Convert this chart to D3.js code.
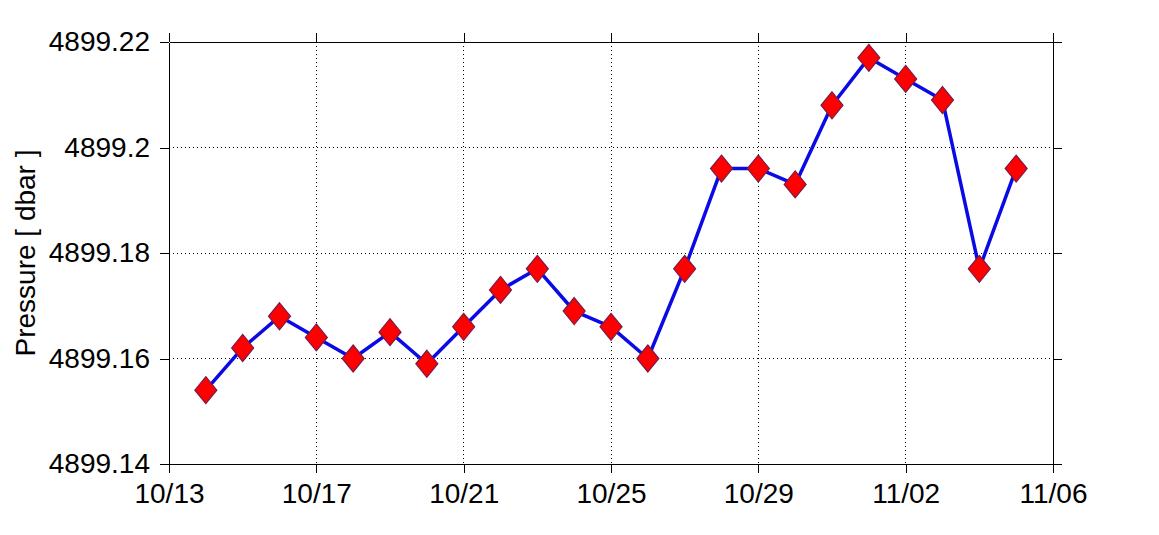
<!DOCTYPE html>
<html>
<head>
<meta charset="utf-8">
<script src="https://cdn.jsdelivr.net/npm/d3@7/dist/d3.min.js"></script>
<style>
  html, body { margin: 0; padding: 0; background: #fff; }
  svg { display: block; font-family: "Liberation Sans", Arial, Helvetica, sans-serif; }
</style>
</head>
<body>
<svg id="chart" width="1159" height="535"></svg>
<script>
// ---- data ----
const dates = ["10/14","10/15","10/16","10/17","10/18","10/19","10/20","10/21","10/22","10/23","10/24","10/25",
               "10/26","10/27","10/28","10/29","10/30","10/31","11/01","11/02","11/03","11/04","11/05"];
const pressure = [4899.154, 4899.162, 4899.168, 4899.164, 4899.160, 4899.165, 4899.159, 4899.166, 4899.173, 4899.177,
                  4899.169, 4899.166, 4899.160, 4899.177, 4899.196, 4899.196, 4899.193, 4899.208, 4899.217, 4899.213,
                  4899.209, 4899.177, 4899.196];
const xTickLabels = ["10/13","10/17","10/21","10/25","10/29","11/02","11/06"];
const yTickValues = [4899.14, 4899.16, 4899.18, 4899.2, 4899.22];
const yTickLabels = ["4899.14","4899.16","4899.18","4899.2","4899.22"];
const xDomain = ["10/13","11/06"];
const yDomain = [4899.14, 4899.22];
const yLabel = "Pressure [ dbar ]";

// ---- helpers ----
const YEAR = 2010;
const toDate = s => { const [m, d] = s.split("/").map(Number); return new Date(Date.UTC(YEAR, m - 1, d)); };

const W = 1159, H = 535;
const margin = { left: 169, right: 106, top: 42, bottom: 71 };
const iw = W - margin.left - margin.right;
const ih = H - margin.top - margin.bottom;

const svg = d3.select("#chart");
const g = svg.append("g").attr("transform", `translate(${margin.left},${margin.top})`);

const x = d3.scaleUtc().domain(xDomain.map(toDate)).range([0, iw]);
const y = d3.scaleLinear().domain(yDomain).range([ih, 0]);

const xTicks = xTickLabels.map(toDate);
const fmtX = d => xTickLabels[xTicks.findIndex(t => +t === +d)];
const fmtY = v => yTickLabels[yTickValues.indexOf(v)];

// grid
const grid = g.append("g").attr("class", "grid");
grid.selectAll("line.gx").data(xTicks.slice(1, -1)).join("line")
  .attr("x1", d => x(d)).attr("x2", d => x(d)).attr("y1", 0).attr("y2", ih)
  .attr("stroke", "#000").attr("stroke-width", 1).attr("stroke-dasharray", "1,3")
  .attr("shape-rendering", "crispEdges");
grid.selectAll("line.gy").data(yTickValues.slice(1, -1)).join("line")
  .attr("x1", 0).attr("x2", iw).attr("y1", d => y(d)).attr("y2", d => y(d))
  .attr("stroke", "#000").attr("stroke-width", 1).attr("stroke-dasharray", "1,3")
  .attr("shape-rendering", "crispEdges");

// axes
const tickLen = 9;
const styleAxis = (sel, showText) => {
  sel.select(".domain").attr("stroke", "#000").attr("stroke-width", 1).attr("shape-rendering", "crispEdges");
  sel.selectAll(".tick line").attr("stroke", "#000").attr("stroke-width", 1).attr("shape-rendering", "crispEdges");
  sel.selectAll(".tick text").attr("fill", "#000").style("font-size", "28px");
  if (!showText) sel.selectAll(".tick text").remove();
};

const xBottom = g.append("g").attr("transform", `translate(0,${ih})`)
  .call(d3.axisBottom(x).tickValues(xTicks).tickFormat(fmtX).tickSize(tickLen).tickSizeOuter(0).tickPadding(10));
styleAxis(xBottom, true);
xBottom.selectAll(".tick text").attr("dy", "0.71em");

const xTop = g.append("g")
  .call(d3.axisTop(x).tickValues(xTicks).tickSize(tickLen).tickSizeOuter(0));
styleAxis(xTop, false);

const yLeft = g.append("g")
  .call(d3.axisLeft(y).tickValues(yTickValues).tickFormat(fmtY).tickSize(tickLen).tickSizeOuter(0).tickPadding(10));
styleAxis(yLeft, true);

const yRight = g.append("g").attr("transform", `translate(${iw},0)`)
  .call(d3.axisRight(y).tickValues(yTickValues).tickSize(tickLen).tickSizeOuter(0));
styleAxis(yRight, false);

// y label
svg.append("text")
  .attr("transform", `translate(35,${margin.top + ih / 2}) rotate(-90)`)
  .attr("text-anchor", "middle")
  .style("font-size", "28px")
  .attr("fill", "#000")
  .text(yLabel);

// line
const pts = dates.map((d, i) => ({ date: toDate(d), v: pressure[i] }));
g.append("path").datum(pts)
  .attr("fill", "none")
  .attr("stroke", "#0a0ae6")
  .attr("stroke-width", 3.5)
  .attr("stroke-linejoin", "round")
  .attr("d", d3.line().x(d => x(d.date)).y(d => y(d.v)));

// diamond markers
const hw = 11, hh = 13.5;
g.selectAll("path.marker").data(pts).join("path")
  .attr("class", "marker")
  .attr("transform", d => `translate(${x(d.date)},${y(d.v)})`)
  .attr("d", `M0,${-hh}L${hw},0L0,${hh}L${-hw},0Z`)
  .attr("fill", "#ff0000")
  .attr("stroke", "#7a1a4a")
  .attr("stroke-width", 1.2);
</script>
</body>
</html>
